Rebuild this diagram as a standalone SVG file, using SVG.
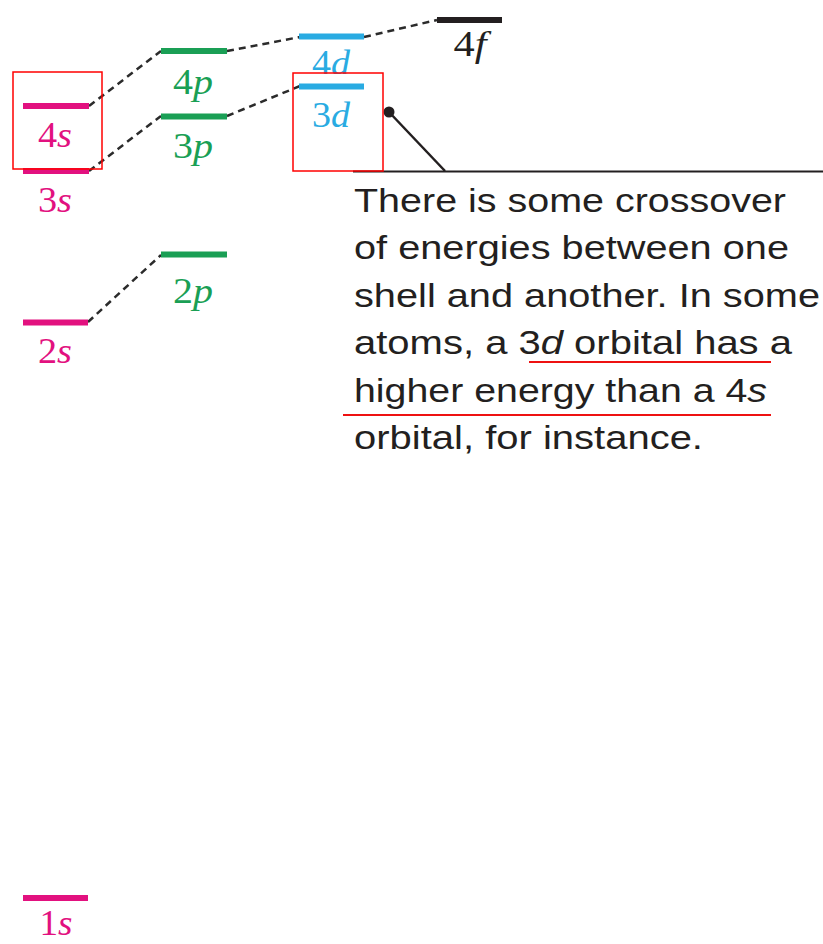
<svg xmlns="http://www.w3.org/2000/svg" width="823" height="944" viewBox="0 0 823 944">
<defs>
<style>
.bar{stroke-width:6;fill:none}
.s{stroke:#e2117f}.p{stroke:#1a9f55}.d{stroke:#29abe2}.f{stroke:#231f20}
.lab{font-family:"Liberation Serif","DejaVu Serif",serif;font-size:35px;text-anchor:middle}
.ls{fill:#e2117f}.lp{fill:#1a9f55}.ld{fill:#29abe2}.lf{fill:#231f20}
.it{font-style:italic}
.conn{stroke:#2b2b2b;stroke-width:2.5;stroke-dasharray:7 5;fill:none}
.box{fill:none;stroke:#ff0000;stroke-width:1.5}
.note{font-family:"Liberation Sans",Arial,sans-serif;font-size:32.5px;fill:#231f20}
.ul{stroke:#ee1111;stroke-width:2}
</style>
<clipPath id="clip4d"><rect x="290" y="40" width="90" height="34"/></clipPath>
</defs>
<rect width="823" height="944" fill="#ffffff"/>
<g id="connectors">
<line class="conn" x1="89" y1="106" x2="161" y2="51"/>
<line class="conn" x1="89" y1="171" x2="161" y2="116"/>
<line class="conn" x1="88" y1="322" x2="161" y2="255"/>
<line class="conn" x1="227" y1="51" x2="300" y2="37"/>
<line class="conn" x1="227" y1="116" x2="300" y2="86"/>
<line class="conn" x1="364" y1="37" x2="437" y2="20"/>
</g>
<g id="n1s"><line class="bar s" x1="23" y1="898" x2="88" y2="898"/><text class="lab ls" x="56" y="935" font-size="33" textLength="33" lengthAdjust="spacingAndGlyphs">1<tspan class="it">s</tspan></text></g>
<g id="n2s"><line class="bar s" x1="23" y1="322.5" x2="88" y2="322.5"/><text class="lab ls" x="55" y="363" textLength="34" lengthAdjust="spacingAndGlyphs">2<tspan class="it">s</tspan></text></g>
<g id="n3s"><line class="bar s" x1="23" y1="171" x2="89" y2="171"/><text class="lab ls" x="55" y="212" textLength="34" lengthAdjust="spacingAndGlyphs">3<tspan class="it">s</tspan></text></g>
<g id="n4s"><line class="bar s" x1="23" y1="106" x2="89" y2="106"/><text class="lab ls" x="55" y="147" textLength="34" lengthAdjust="spacingAndGlyphs">4<tspan class="it">s</tspan></text></g>
<g id="n2p"><line class="bar p" x1="161" y1="254.5" x2="227" y2="254.5"/><text class="lab lp" x="193" y="303" textLength="40" lengthAdjust="spacingAndGlyphs">2<tspan class="it">p</tspan></text></g>
<g id="n3p"><line class="bar p" x1="161" y1="116.5" x2="227" y2="116.5"/><text class="lab lp" x="193" y="158" textLength="40" lengthAdjust="spacingAndGlyphs">3<tspan class="it">p</tspan></text></g>
<g id="n4p"><line class="bar p" x1="161" y1="51" x2="227" y2="51"/><text class="lab lp" x="193" y="94" textLength="40" lengthAdjust="spacingAndGlyphs">4<tspan class="it">p</tspan></text></g>
<g id="n3d"><line class="bar d" x1="299" y1="86.5" x2="364" y2="86.5"/><text class="lab ld" x="331" y="127" textLength="38" lengthAdjust="spacingAndGlyphs">3<tspan class="it">d</tspan></text></g>
<g id="n4d"><line class="bar d" x1="299" y1="36.5" x2="364" y2="36.5"/><text class="lab ld" x="331" y="75" textLength="38" lengthAdjust="spacingAndGlyphs" clip-path="url(#clip4d)">4<tspan class="it">d</tspan></text></g>
<g id="n4f"><line class="bar f" x1="437" y1="20" x2="502" y2="20"/><text class="lab lf" x="470" y="56" textLength="33" lengthAdjust="spacingAndGlyphs">4<tspan class="it">f</tspan></text></g>
<g id="callout">
<circle cx="389" cy="112" r="5.5" fill="#231f20"/>
<line x1="389" y1="112" x2="445" y2="171" stroke="#231f20" stroke-width="2.5"/>
<line x1="353" y1="171.5" x2="823" y2="171.5" stroke="#231f20" stroke-width="2"/>
<text class="note" x="354" y="212" textLength="432" lengthAdjust="spacingAndGlyphs">There is some crossover</text>
<text class="note" x="354" y="259" textLength="435" lengthAdjust="spacingAndGlyphs">of energies between one</text>
<text class="note" x="354" y="307" textLength="466" lengthAdjust="spacingAndGlyphs">shell and another. In some</text>
<text class="note" x="354" y="354" textLength="438" lengthAdjust="spacingAndGlyphs">atoms, a 3<tspan font-style="italic">d</tspan> orbital has a</text>
<text class="note" x="354" y="402" textLength="413" lengthAdjust="spacingAndGlyphs">higher energy than a 4<tspan font-style="italic">s</tspan></text>
<text class="note" x="354" y="449" textLength="349" lengthAdjust="spacingAndGlyphs">orbital, for instance.</text>
</g>
<g id="annotations">
<rect class="box" x="13" y="72" width="89" height="97"/>
<rect class="box" x="293" y="73" width="90" height="98"/>
<line class="ul" x1="529" y1="362" x2="771" y2="362"/>
<line class="ul" x1="343" y1="415" x2="771" y2="415"/>
</g>
</svg>
